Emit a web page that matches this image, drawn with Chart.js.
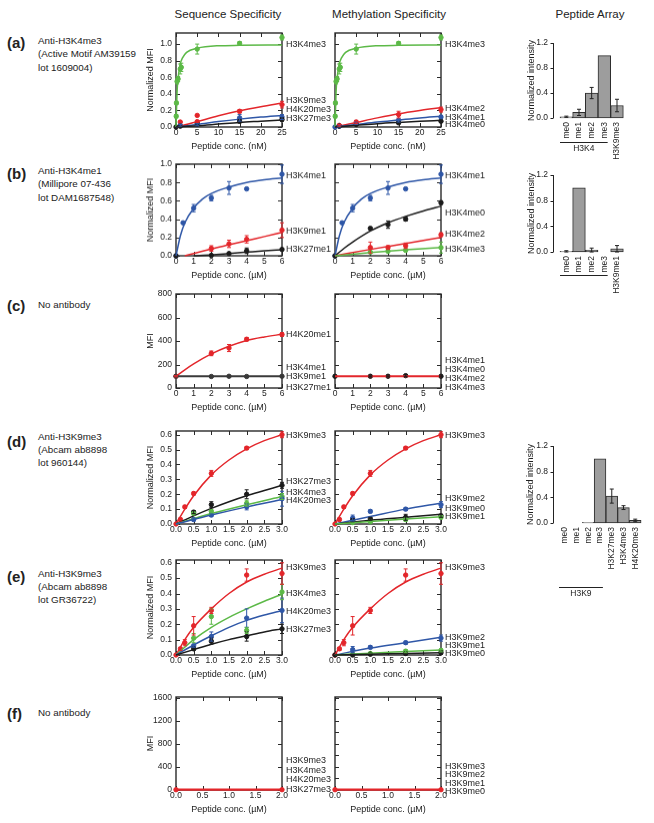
<!DOCTYPE html>
<html><head><meta charset="utf-8">
<script src="https://cdn.jsdelivr.net/npm/chart.js@4.4.0/dist/chart.umd.min.js"></script>
<style>
body{margin:0;background:#fff;}
#fig{position:relative;width:654px;height:823px;overflow:hidden;font-family:"Liberation Sans",Arial,sans-serif;color:#222;background:#fff;}
.t{position:absolute;white-space:nowrap;}
.col{font-size:11.5px;line-height:14px;transform:translateX(-50%);}
.pl{font-size:15px;line-height:18px;font-weight:bold;left:7px;}
.desc{font-size:9.8px;line-height:13.3px;left:38px;}
canvas{position:absolute;}
</style></head><body>
<div id="fig">
 <div class="t col" style="left:228px;top:7px">Sequence Specificity</div>
 <div class="t col" style="left:389px;top:7px">Methylation Specificity</div>
 <div class="t col" style="left:590px;top:7px">Peptide Array</div>
 <div class="t pl" style="top:34px">(a)</div>
 <div class="t desc" style="top:34px">Anti-H3K4me3<br>(Active Motif AM39159<br>lot 1609004)</div>
 <div class="t pl" style="top:165px">(b)</div>
 <div class="t desc" style="top:164px">Anti-H3K4me1<br>(Millipore 07-436<br>lot DAM1687548)</div>
 <div class="t pl" style="top:297px">(c)</div>
 <div class="t desc" style="top:297.5px">No antibody</div>
 <div class="t pl" style="top:433px">(d)</div>
 <div class="t desc" style="top:429.5px">Anti-H3K9me3<br>(Abcam ab8898<br>lot 960144)</div>
 <div class="t pl" style="top:568px">(e)</div>
 <div class="t desc" style="top:566.5px">Anti-H3K9me3<br>(Abcam ab8898<br>lot GR36722)</div>
 <div class="t pl" style="top:705px">(f)</div>
 <div class="t desc" style="top:705.5px">No antibody</div>
</div>
<script>
// ================= DATA =================
// ---- (a) Anti-H3K4me3, peptide conc. in nM ----
const aXTicks=[0,5,10,15,20,25];
const aYTicks=[0,0.2,0.4,0.6,0.8,1.0];
const aK4me3_px=[0.05,0.1,0.25,0.5,1,1.25,5,15,25];
const aK4me3_py=[0.13,0.29,0.55,0.58,0.70,0.72,0.94,1.01,1.08];
const aK4me3_pe=[0.02,0.02,0.03,0.03,0.06,0.05,0.06,0.02,0.03];
const aK4me3_cx=[0,0.25,0.5,1,1.5,2.5,5,10,15,25];
const aK4me3_cy=[0,0.42,0.59,0.76,0.83,0.90,0.95,0.98,0.985,0.99];
const aK9me3_px=[1,5,5,15,25];
const aK9me3_py=[0.06,0.14,0.065,0.19,0.27];
const aK9me3_pe=[0.01,0.01,0.01,0.02,0.04];
const aK9me3_cx=[0,1,5,10,15,20,25];
const aK9me3_cy=[0,0.01,0.065,0.135,0.195,0.245,0.29];
const aK20me3_px=[1,5,15,25];
const aK20me3_py=[0.02,0.03,0.11,0.12];
const aK20me3_pe=[0.01,0.01,0.04,0.03];
const aK20me3_cx=[0,5,10,15,20,25];
const aK20me3_cy=[0,0.03,0.065,0.095,0.12,0.14];
const aK27me3_px=[0,1,5,15,25];
const aK27me3_py=[0,0.01,0.04,0.07,0.09];
const aK27me3_pe=[0,0.01,0.01,0.02,0.02];
const aK27me3_cx=[0,5,10,15,20,25];
const aK27me3_cy=[0,0.015,0.035,0.055,0.07,0.085];
const aSeqLabels=['H3K4me3','H3K9me3','H4K20me3','H3K27me3'];
const aSeqLabelY=[1.0,0.32,0.21,0.10];
const aK4me2_px=[1,5,15,25];
const aK4me2_py=[0.02,0.06,0.15,0.21];
const aK4me2_pe=[0.01,0.02,0.04,0.03];
const aK4me2_cx=[0,5,10,15,20,25];
const aK4me2_cy=[0,0.055,0.11,0.16,0.2,0.235];
const aK4me1_px=[0,1,5,15,25];
const aK4me1_py=[0,0.01,0.04,0.08,0.12];
const aK4me1_pe=[0,0.01,0.01,0.02,0.02];
const aK4me1_cx=[0,5,10,15,20,25];
const aK4me1_cy=[0,0.03,0.06,0.085,0.11,0.13];
const aK4me0_px=[1,5,15,25];
const aK4me0_py=[0.01,0.03,0.05,0.07];
const aK4me0_pe=[0.01,0.01,0.01,0.01];
const aK4me0_cx=[0,5,10,15,20,25];
const aK4me0_cy=[0,0.02,0.04,0.055,0.068,0.08];
const aMethLabels=['H3K4me3','H3K4me2','H3K4me1','H3K4me0'];
const aMethLabelY=[1.0,0.22,0.12,0.03];
const aArrayCats=['me0','me1','me2','me3','H3K9me3'];
const aArrayVals=[0.02,0.09,0.40,1.0,0.20];
const aArrayErr=[0.01,0.05,0.09,0,0.10];

// ---- (b) Anti-H3K4me1, µM ----
const bXTicks=[0,1,2,3,4,5,6];
const bYTicks=[0,0.2,0.4,0.6,0.8,1.0];
const bK4me1_px=[0,0.4,1,2,3,4,6];
const bK4me1_py=[0,0.36,0.52,0.63,0.74,0.73,0.89];
const bK4me1_pe=[0,0.01,0.04,0.03,0.07,0.01,0.10];
const bK4me1_cx=[0,0.25,0.5,1,1.5,2,3,4,5,6];
const bK4me1_cy=[0,0.22,0.36,0.52,0.62,0.68,0.75,0.80,0.83,0.85];
const bK9me1_px=[2,3,4,6];
const bK9me1_py=[0.08,0.13,0.18,0.28];
const bK9me1_pe=[0.03,0.04,0.04,0.08];
const bK9me1_cx=[0.5,2,3,4,5,6];
const bK9me1_cy=[0,0.075,0.12,0.165,0.21,0.255];
const bK27me1_px=[0,2,3,4,6];
const bK27me1_py=[0,0.005,0.025,0.055,0.07];
const bK27me1_pe=[0,0.01,0.01,0.03,0.01];
const bK27me1_cx=[1,2,3,4,5,6];
const bK27me1_cy=[0,0.01,0.025,0.04,0.055,0.067];
const bSeqLabels=['H3K4me1','H3K9me1','H3K27me1'];
const bSeqLabelY=[0.875,0.27,0.07];
const bK4me0_px=[0,2,3,4,6];
const bK4me0_py=[0,0.30,0.34,0.40,0.58];
const bK4me0_pe=[0,0.01,0.04,0.02,0.02];
const bK4me0_cx=[0,0.5,1,2,3,4,5,6];
const bK4me0_cy=[0,0.08,0.15,0.27,0.36,0.43,0.49,0.54];
const bK4me2_px=[2,3,4,6];
const bK4me2_py=[0.09,0.09,0.11,0.23];
const bK4me2_pe=[0.06,0.02,0.03,0.02];
const bK4me2_cx=[0,2,4,6];
const bK4me2_cy=[0,0.07,0.135,0.2];
const bK4me3_px=[2,3,4,6];
const bK4me3_py=[0.04,0.05,0.06,0.09];
const bK4me3_pe=[0.01,0.01,0.01,0.06];
const bK4me3_cx=[0,2,4,6];
const bK4me3_cy=[0,0.035,0.065,0.09];
const bMethLabels=['H3K4me1','H3K4me0','H3K4me2','H3K4me3'];
const bMethLabelY=[0.875,0.47,0.24,0.07];
const bArrayCats=['me0','me1','me2','me3','H3K9me1'];
const bArrayVals=[0.01,1.0,0.03,0,0.05];
const bArrayErr=[0.01,0,0.03,0,0.05];

// ---- (c) No antibody, MFI ----
const cXTicks=[0,1,2,3,4,5,6];
const cYTicks=[0,200,400,600,800];
const cK20me1_px=[0,2,3,4,6];
const cK20me1_py=[100,295,340,415,455];
const cK20me1_pe=[5,20,30,15,15];
const cK20me1_cx=[0,0.5,1,2,3,4,5,6];
const cK20me1_cy=[100,155,205,290,355,405,435,457];
const cK9me1_px=[0,2,3,4,6];
const cK9me1_py=[100,98,100,98,100];
const cK9me1_pe=[0,5,5,5,5];
const cK9me1_cx=[0,6];
const cK9me1_cy=[100,100];
const cSeqLabels=['H4K20me1','H3K4me1','H3K9me1','H3K27me1'];
const cSeqLabelY=[457,176,94,8];
const cK4me0_px=[0,2,3,4,6];
const cK4me0_py=[100,100,100,105,100];
const cK4me0_pe=[0,4,4,8,4];
const cK4me2_cx=[0,6];
const cK4me2_cy=[100,100];
const cMethLabels=['H3K4me1','H3K4me0','H3K4me2','H3K4me3'];
const cMethLabelY=[233,157,77,8];

// ---- (d) Anti-H3K9me3 lot 960144, µM ----
const dXTicks=[0,0.5,1,1.5,2,2.5,3];
const dYTicks=[0,0.1,0.2,0.3,0.4,0.5,0.6];
const dK9me3_px=[0,0.125,0.25,0.5,1,2,3];
const dK9me3_py=[0,0.03,0.115,0.205,0.34,0.51,0.6];
const dK9me3_pe=[0,0.01,0.01,0.01,0.02,0.01,0.02];
const dK9me3_cx=[0,0.25,0.5,1,1.5,2,2.5,3];
const dK9me3_cy=[0,0.1,0.19,0.33,0.43,0.505,0.56,0.6];
const dK27me3_px=[0.5,1,2,3];
const dK27me3_py=[0.08,0.13,0.2,0.26];
const dK27me3_pe=[0.01,0.02,0.03,0.02];
const dK27me3_cx=[0,0.5,1,1.5,2,2.5,3];
const dK27me3_cy=[0,0.055,0.105,0.15,0.19,0.225,0.26];
const dK4me3_px=[0.5,1,2,3];
const dK4me3_py=[0.07,0.085,0.14,0.185];
const dK4me3_pe=[0.01,0.01,0.02,0.02];
const dK4me3_cx=[0,1,2,3];
const dK4me3_cy=[0,0.07,0.13,0.185];
const dK20me3_px=[0.5,1,2,3];
const dK20me3_py=[0.03,0.06,0.115,0.17];
const dK20me3_pe=[0.01,0.01,0.02,0.05];
const dK20me3_cx=[0,1,2,3];
const dK20me3_cy=[0,0.06,0.115,0.165];
const dSeqLabels=['H3K9me3','H3K27me3','H3K4me3','H4K20me3'];
const dSeqLabelY=[0.593,0.287,0.213,0.156];
const dK9me2_px=[0.5,1,2,3];
const dK9me2_py=[0.04,0.085,0.1,0.13];
const dK9me2_pe=[0.02,0.01,0.01,0.02];
const dK9me2_cx=[0,1,2,3];
const dK9me2_cy=[0,0.05,0.1,0.14];
const dK9me0_px=[0.5,1,2,3];
const dK9me0_py=[0.025,0.035,0.045,0.055];
const dK9me0_pe=[0.01,0.01,0.02,0.01];
const dK9me0_cx=[0,1,2,3];
const dK9me0_cy=[0,0.025,0.045,0.065];
const dK9me1_px=[0.5,1,2,3];
const dK9me1_py=[0.01,0.015,0.03,0.045];
const dK9me1_pe=[0.005,0.005,0.01,0.01];
const dK9me1_cx=[0,1,2,3];
const dK9me1_cy=[0,0.017,0.033,0.048];
const dMethLabels=['H3K9me3','H3K9me2','H3K9me0','H3K9me1'];
const dMethLabelY=[0.593,0.168,0.105,0.049];
const dArrayCats=['me0','me1','me2','me3','H3K27me3','H3K4me3','H4K20me3'];
const dArrayVals=[0,0,0.01,1.0,0.42,0.24,0.04];
const dArrayErr=[0,0,0,0,0.11,0.03,0.02];

// ---- (e) Anti-H3K9me3 lot GR36722, µM ----
const eXTicks=[0,0.5,1,1.5,2,2.5,3];
const eYTicks=[0,0.1,0.2,0.3,0.4,0.5,0.6];
const eK9me3_px=[0,0.125,0.25,0.5,1,2,3];
const eK9me3_py=[0,0.04,0.08,0.19,0.29,0.52,0.53];
const eK9me3_pe=[0,0.01,0.02,0.06,0.02,0.04,0.07];
const eK9me3_cx=[0,0.25,0.5,1,1.5,2,2.5,3];
const eK9me3_cy=[0,0.1,0.18,0.3,0.4,0.475,0.525,0.565];
const eK4me3_px=[0.5,1,2,3];
const eK4me3_py=[0.11,0.25,0.16,0.41];
const eK4me3_pe=[0.03,0.05,0.02,0.05];
const eK4me3_cx=[0,0.5,1,1.5,2,2.5,3];
const eK4me3_cy=[0,0.1,0.18,0.245,0.3,0.35,0.395];
const eK20me3_px=[0.5,1,2,3];
const eK20me3_py=[0.06,0.12,0.24,0.29];
const eK20me3_pe=[0.01,0.03,0.06,0.08];
const eK20me3_cx=[0,0.5,1,1.5,2,2.5,3];
const eK20me3_cy=[0,0.065,0.125,0.18,0.225,0.26,0.29];
const eK27me3_px=[0.5,1,2,3];
const eK27me3_py=[0.04,0.09,0.12,0.17];
const eK27me3_pe=[0.01,0.02,0.03,0.03];
const eK27me3_cx=[0,0.5,1,1.5,2,2.5,3];
const eK27me3_cy=[0,0.035,0.07,0.1,0.125,0.15,0.17];
const eSeqLabels=['H3K9me3','H3K4me3','H4K20me3','H3K27me3'];
const eSeqLabelY=[0.566,0.397,0.284,0.169];
const eK9me2_px=[0.5,1,2,3];
const eK9me2_py=[0.035,0.05,0.08,0.11];
const eK9me2_pe=[0.02,0.01,0.01,0.02];
const eK9me2_cx=[0,1,2,3];
const eK9me2_cy=[0,0.045,0.08,0.115];
const eK9me1_px=[0.5,1,2,3];
const eK9me1_py=[0.005,0.01,0.025,0.03];
const eK9me1_pe=[0,0,0.01,0.01];
const eK9me1_cx=[0,1,2,3];
const eK9me1_cy=[0,0.012,0.022,0.032];
const eK9me0_px=[0,0.5,1,2,3];
const eK9me0_py=[0,0,0.005,0.01,0.015];
const eK9me0_pe=[0,0,0,0.01,0.01];
const eK9me0_cx=[0,1,2,3];
const eK9me0_cy=[0,0.005,0.01,0.015];
const eMethLabels=['H3K9me3','H3K9me2','H3K9me1','H3K9me0'];
const eMethLabelY=[0.566,0.112,0.059,0.007];

// ---- (f) No antibody, MFI ----
const fXTicks=[0,0.5,1,1.5,2];
const fYTicks=[0,200,400,600,800,1000,1200,1400,1600];
const fK9me3_px=[0,2];
const fK9me3_py=[5,5];
const fK9me3_pe=[0,0];
const fK9me3_cx=[0,2];
const fK9me3_cy=[5,5];
const fSeqLabels=['H3K9me3','H3K4me3','H4K20me3','H3K27me3'];
const fSeqLabelY=[506,343,174,0];
const fMethLabels=['H3K9me3','H3K9me2','H3K9me1','H3K9me0'];
const fMethLabelY=[413,262,117,-30];

// ================= STYLE / RENDER =================
const GREEN='#5cb947', RED='#e3262b', BLUE='#2f57a7', BLACK='#1c1c1c', DARK='#3a3a3a';
const INK='#222';
const LABEL_FONT='9px "Liberation Sans", Arial, sans-serif';
const TICK_SIZE=8.5;
Chart.defaults.font.family='"Liberation Sans", Arial, sans-serif';
const fig=document.getElementById('fig');

function addCanvas(left,top,w,h){
  const c=document.createElement('canvas');
  c.width=w;c.height=h;
  c.style.left=left+'px';c.style.top=top+'px';c.style.width=w+'px';c.style.height=h+'px';
  fig.appendChild(c);return c;
}
function fmt(v,d){return Number(v).toFixed(d);}
function S(color,px,py,pe,cx,cy,lw){return {color,px,py,pe,cx,cy,lw};}

const boxPlugin={id:'box',beforeDatasetsDraw(chart){
  const {ctx,chartArea:a,scales:{x,y}}=chart;
  ctx.save();ctx.strokeStyle='#2a2a2a';ctx.lineWidth=1.4;
  ctx.strokeRect(a.left,a.top,a.right-a.left,a.bottom-a.top);
  ctx.lineWidth=1;ctx.beginPath();
  x.ticks.forEach(t=>{const p=Math.round(x.getPixelForValue(t.value))+0.5;ctx.moveTo(p,a.bottom);ctx.lineTo(p,a.bottom-4);ctx.moveTo(p,a.top);ctx.lineTo(p,a.top+4);});
  y.ticks.forEach(t=>{const p=Math.round(y.getPixelForValue(t.value))+0.5;ctx.moveTo(a.left,p);ctx.lineTo(a.left+4,p);ctx.moveTo(a.right,p);ctx.lineTo(a.right-4,p);});
  ctx.stroke();ctx.restore();
}};
const errPlugin={id:'errs',afterDatasetsDraw(chart){
  const ctx=chart.ctx,ys=chart.scales.y;
  chart.data.datasets.forEach((ds,i)=>{
    if(!ds.errs)return;
    const meta=chart.getDatasetMeta(i);
    ctx.save();ctx.strokeStyle=ds.errColor||ds.borderColor;ctx.lineWidth=1;ctx.beginPath();
    ds.data.forEach((d,j)=>{
      const e=ds.errs[j];if(!e)return;
      const v=(typeof d==='number')?d:d.y;
      const x=meta.data[j].x,y1=ys.getPixelForValue(v+e),y2=ys.getPixelForValue(v-e);
      ctx.moveTo(x,y1);ctx.lineTo(x,y2);
      ctx.moveTo(x-2,y1);ctx.lineTo(x+2,y1);ctx.moveTo(x-2,y2);ctx.lineTo(x+2,y2);
    });
    ctx.stroke();ctx.restore();
  });
}};
const labelPlugin={id:'sideLabels',afterDraw(chart,args,o){
  if(!o||!o.names)return;
  const {ctx,chartArea:a,scales:{y}}=chart;
  ctx.save();ctx.fillStyle=INK;ctx.font=LABEL_FONT;
  ctx.textAlign='left';ctx.textBaseline='middle';
  o.names.forEach((n,i)=>ctx.fillText(n,a.right+4,y.getPixelForValue(o.ys[i])));
  ctx.restore();
}};
const barAxisPlugin={id:'barAxis',afterDraw(chart,args,o){
  const {ctx,chartArea:a,scales:{x,y}}=chart;
  const ax=Math.round(a.left-o.gap)+0.5;
  ctx.save();ctx.strokeStyle='#222';ctx.lineWidth=1;ctx.beginPath();
  ctx.moveTo(ax,a.top);ctx.lineTo(ax,a.bottom);
  y.ticks.forEach(t=>{const p=Math.round(y.getPixelForValue(t.value))+0.5;ctx.moveTo(ax-3,p);ctx.lineTo(ax,p);});
  if(o.group){
    const w=x.getPixelForValue(1)-x.getPixelForValue(0);
    const x1=x.getPixelForValue(o.group.from)-w/2,x2=x.getPixelForValue(o.group.to)+w/2-3;
    const gy=Math.round(a.bottom+o.group.dy)+0.5;
    ctx.moveTo(x1,gy);ctx.lineTo(x2,gy);
    ctx.stroke();
    if(o.group.text){ctx.fillStyle=INK;ctx.font='8.5px "Liberation Sans", Arial, sans-serif';ctx.textAlign='center';ctx.textBaseline='middle';ctx.fillText(o.group.text,(x1+x2)/2,gy+6.5);}
  } else ctx.stroke();
  ctx.restore();
}};

function lineChart(box,spec){
  const AW=32,PT=12,PR=70,XH=25;
  const left=box.L-AW,top=box.T-PT,w=AW+(box.R-box.L)+PR,h=PT+(box.B-box.T)+XH;
  const cv=addCanvas(left,top,w,h);
  const lines=[],pts=[];
  spec.series.forEach(s=>{
    lines.push({type:'line',data:s.cx.map((x,i)=>({x,y:s.cy[i]})),borderColor:s.color,borderWidth:s.lw||1.5,pointRadius:0,cubicInterpolationMode:'monotone',fill:false,clip:false});
    pts.push({type:'scatter',data:s.px.map((x,i)=>({x,y:s.py[i]})),errs:s.pe,backgroundColor:s.color,borderColor:s.color,borderWidth:1,pointRadius:2.2,clip:false});
  });
  new Chart(cv,{type:'scatter',data:{datasets:lines.concat(pts)},plugins:[boxPlugin,errPlugin,labelPlugin],
    options:{responsive:false,animation:false,events:[],
      layout:{padding:{top:PT,right:PR,left:0,bottom:0}},
      plugins:{legend:{display:false},tooltip:{enabled:false},sideLabels:{names:spec.labels,ys:spec.labelY}},
      scales:{
        x:{type:'linear',min:spec.xmin,max:spec.xmax,
          afterBuildTicks:s=>{s.ticks=spec.xticks.map(v=>({value:v}));},
          afterFit:s=>{s.height=XH;},
          grid:{display:false,drawTicks:false,tickLength:0},border:{display:false},
          ticks:{padding:1,font:{size:TICK_SIZE},color:INK,maxRotation:0,autoSkip:false,callback:v=>fmt(v,spec.xdec)},
          title:{display:true,text:spec.xtitle,font:{size:9},color:INK,padding:{top:0,bottom:0}}},
        y:{type:'linear',min:spec.ymin,max:spec.ymax,
          afterBuildTicks:s=>{s.ticks=spec.yticks.map(v=>({value:v}));},
          afterFit:s=>{s.width=AW;},
          grid:{display:false,drawTicks:false,tickLength:0},border:{display:false},
          ticks:{display:!!spec.ytitle,padding:4,font:{size:TICK_SIZE},color:INK,callback:v=>fmt(v,spec.ydec)},
          title:{display:!!spec.ytitle,text:spec.ytitle||'',font:{size:9},color:INK,padding:{top:1.5,bottom:0}}}
      }}});
}

function barChart(box,spec){
  const AW=40,PT=8,PR=8,XH=80;
  const left=box.L-AW,top=box.T-PT,w=AW+(box.R-box.L)+PR,h=PT+(box.B-box.T)+XH;
  const cv=addCanvas(left,top,w,h);
  new Chart(cv,{type:'bar',data:{labels:spec.cats,datasets:[{data:spec.vals,errs:spec.errs,errColor:'#222',backgroundColor:'#9d9d9d',borderColor:'#2e2e2e',borderWidth:1,borderSkipped:false,barPercentage:1,categoryPercentage:1,clip:false}]},
    plugins:[errPlugin,barAxisPlugin],
    options:{responsive:false,animation:false,events:[],
      layout:{padding:{top:PT,right:PR,left:0,bottom:0}},
      plugins:{legend:{display:false},tooltip:{enabled:false},barAxis:{gap:box.gap,group:spec.group}},
      scales:{
        x:{type:'category',afterFit:s=>{s.height=XH;},grid:{display:false,drawTicks:false,tickLength:0},border:{display:false},
          ticks:{minRotation:90,maxRotation:90,padding:4,font:{size:TICK_SIZE},color:INK,autoSkip:false}},
        y:{type:'linear',min:0,max:1.2,
          afterBuildTicks:s=>{s.ticks=spec.yticks.map(v=>({value:v}));},
          afterFit:s=>{s.width=AW;},
          grid:{display:false,drawTicks:false,tickLength:0},border:{display:false},
          ticks:{padding:box.gap+5,font:{size:TICK_SIZE},color:INK,callback:v=>fmt(v,1)},
          title:{display:true,text:'Normalized intensity',font:{size:9},color:INK,padding:{top:6.6,bottom:0}}}
      }}});
}

const SEQ={L:176,R:282}, METH={L:335,R:441};
const NM='Peptide conc. (nM)', UM='Peptide conc. (\u00b5M)';
const barYTicks=[0,0.2,0.4,0.6,0.8,1.0,1.2];

// (a)
const aRow={T:32.5,B:127.3};
lineChart({...SEQ,...aRow},{xmin:0,xmax:25,ymin:0,ymax:1.134,xticks:aXTicks,yticks:aYTicks,xdec:0,ydec:1,xtitle:NM,ytitle:'Normalized MFI',labels:aSeqLabels,labelY:aSeqLabelY,
  series:[S(BLACK,aK27me3_px,aK27me3_py,aK27me3_pe,aK27me3_cx,aK27me3_cy),S(BLUE,aK20me3_px,aK20me3_py,aK20me3_pe,aK20me3_cx,aK20me3_cy),S(RED,aK9me3_px,aK9me3_py,aK9me3_pe,aK9me3_cx,aK9me3_cy),S(GREEN,aK4me3_px,aK4me3_py,aK4me3_pe,aK4me3_cx,aK4me3_cy)]});
lineChart({...METH,...aRow},{xmin:0,xmax:25,ymin:0,ymax:1.134,xticks:aXTicks,yticks:aYTicks,xdec:0,ydec:1,xtitle:NM,labels:aMethLabels,labelY:aMethLabelY,
  series:[S(BLACK,aK4me0_px,aK4me0_py,aK4me0_pe,aK4me0_cx,aK4me0_cy),S(BLUE,aK4me1_px,aK4me1_py,aK4me1_pe,aK4me1_cx,aK4me1_cy),S(RED,aK4me2_px,aK4me2_py,aK4me2_pe,aK4me2_cx,aK4me2_cy),S(GREEN,aK4me3_px,aK4me3_py,aK4me3_pe,aK4me3_cx,aK4me3_cy)]});
barChart({L:560,R:624,T:34.3,B:118.3,gap:7},{cats:aArrayCats,vals:aArrayVals,errs:aArrayErr,yticks:barYTicks,group:{from:0,to:3,dy:24.4,text:'H3K4'}});

// (b)
const bRow={T:164.3,B:255.7};
lineChart({...SEQ,...bRow},{xmin:0,xmax:6,ymin:0,ymax:1.0,xticks:bXTicks,yticks:bYTicks,xdec:0,ydec:1,xtitle:UM,ytitle:'Normalized MFI',labels:bSeqLabels,labelY:bSeqLabelY,
  series:[S(BLACK,bK27me1_px,bK27me1_py,bK27me1_pe,bK27me1_cx,bK27me1_cy),S(RED,bK9me1_px,bK9me1_py,bK9me1_pe,bK9me1_cx,bK9me1_cy),S(BLUE,bK4me1_px,bK4me1_py,bK4me1_pe,bK4me1_cx,bK4me1_cy)]});
lineChart({...METH,...bRow},{xmin:0,xmax:6,ymin:0,ymax:1.0,xticks:bXTicks,yticks:bYTicks,xdec:0,ydec:1,xtitle:UM,labels:bMethLabels,labelY:bMethLabelY,
  series:[S(GREEN,bK4me3_px,bK4me3_py,bK4me3_pe,bK4me3_cx,bK4me3_cy),S(RED,bK4me2_px,bK4me2_py,bK4me2_pe,bK4me2_cx,bK4me2_cy),S(BLACK,bK4me0_px,bK4me0_py,bK4me0_pe,bK4me0_cx,bK4me0_cy),S(BLUE,bK4me1_px,bK4me1_py,bK4me1_pe,bK4me1_cx,bK4me1_cy)]});
barChart({L:560,R:624,T:165.7,B:251.7,gap:7},{cats:bArrayCats,vals:bArrayVals,errs:bArrayErr,yticks:barYTicks,group:{from:0,to:3,dy:23.3,text:''}});

// (c)
const cRow={T:293.5,B:387.7};
lineChart({...SEQ,...cRow},{xmin:0,xmax:6,ymin:0,ymax:800,xticks:cXTicks,yticks:cYTicks,xdec:0,ydec:0,xtitle:UM,ytitle:'MFI',labels:cSeqLabels,labelY:cSeqLabelY,
  series:[S(DARK,cK9me1_px,cK9me1_py,cK9me1_pe,cK9me1_cx,cK9me1_cy,2),S(RED,cK20me1_px,cK20me1_py,cK20me1_pe,cK20me1_cx,cK20me1_cy)]});
lineChart({...METH,...cRow},{xmin:0,xmax:6,ymin:0,ymax:800,xticks:cXTicks,yticks:cYTicks,xdec:0,ydec:0,xtitle:UM,labels:cMethLabels,labelY:cMethLabelY,
  series:[S(RED,[],[],[],cK4me2_cx,cK4me2_cy,2),S(BLACK,cK4me0_px,cK4me0_py,cK4me0_pe,[],[])]});

// (d)
const dRow={T:431,B:524};
lineChart({...SEQ,...dRow},{xmin:0,xmax:3,ymin:0,ymax:0.625,xticks:dXTicks,yticks:dYTicks,xdec:1,ydec:1,xtitle:UM,ytitle:'Normalized MFI',labels:dSeqLabels,labelY:dSeqLabelY,
  series:[S(BLUE,dK20me3_px,dK20me3_py,dK20me3_pe,dK20me3_cx,dK20me3_cy),S(GREEN,dK4me3_px,dK4me3_py,dK4me3_pe,dK4me3_cx,dK4me3_cy),S(BLACK,dK27me3_px,dK27me3_py,dK27me3_pe,dK27me3_cx,dK27me3_cy),S(RED,dK9me3_px,dK9me3_py,dK9me3_pe,dK9me3_cx,dK9me3_cy)]});
lineChart({...METH,...dRow},{xmin:0,xmax:3,ymin:0,ymax:0.625,xticks:dXTicks,yticks:dYTicks,xdec:1,ydec:1,xtitle:UM,labels:dMethLabels,labelY:dMethLabelY,
  series:[S(GREEN,dK9me1_px,dK9me1_py,dK9me1_pe,dK9me1_cx,dK9me1_cy),S(BLACK,dK9me0_px,dK9me0_py,dK9me0_pe,dK9me0_cx,dK9me0_cy),S(BLUE,dK9me2_px,dK9me2_py,dK9me2_pe,dK9me2_cx,dK9me2_cy),S(RED,dK9me3_px,dK9me3_py,dK9me3_pe,dK9me3_cx,dK9me3_cy)]});
barChart({L:559,R:642,T:438,B:523.3,gap:6},{cats:dArrayCats,vals:dArrayVals,errs:dArrayErr,yticks:barYTicks,group:{from:0,to:3,dy:64,text:'H3K9'}});

// (e)
const eRow={T:560,B:655};
lineChart({...SEQ,...eRow},{xmin:0,xmax:3,ymin:0,ymax:0.618,xticks:eXTicks,yticks:eYTicks,xdec:1,ydec:1,xtitle:UM,ytitle:'Normalized MFI',labels:eSeqLabels,labelY:eSeqLabelY,
  series:[S(BLACK,eK27me3_px,eK27me3_py,eK27me3_pe,eK27me3_cx,eK27me3_cy),S(BLUE,eK20me3_px,eK20me3_py,eK20me3_pe,eK20me3_cx,eK20me3_cy),S(GREEN,eK4me3_px,eK4me3_py,eK4me3_pe,eK4me3_cx,eK4me3_cy),S(RED,eK9me3_px,eK9me3_py,eK9me3_pe,eK9me3_cx,eK9me3_cy)]});
lineChart({...METH,...eRow},{xmin:0,xmax:3,ymin:0,ymax:0.618,xticks:eXTicks,yticks:eYTicks,xdec:1,ydec:1,xtitle:UM,labels:eMethLabels,labelY:eMethLabelY,
  series:[S(BLACK,eK9me0_px,eK9me0_py,eK9me0_pe,eK9me0_cx,eK9me0_cy),S(GREEN,eK9me1_px,eK9me1_py,eK9me1_pe,eK9me1_cx,eK9me1_cy),S(BLUE,eK9me2_px,eK9me2_py,eK9me2_pe,eK9me2_cx,eK9me2_cy),S(RED,eK9me3_px,eK9me3_py,eK9me3_pe,eK9me3_cx,eK9me3_cy)]});

// (f)
const fRow={T:697,B:790};
lineChart({...SEQ,...fRow},{xmin:0,xmax:2,ymin:0,ymax:1615,xticks:fXTicks,yticks:fYTicks,xdec:1,ydec:0,xtitle:UM,ytitle:'MFI',labels:fSeqLabels,labelY:fSeqLabelY,
  series:[S(RED,fK9me3_px,fK9me3_py,fK9me3_pe,fK9me3_cx,fK9me3_cy,2.2)]});
lineChart({...METH,...fRow},{xmin:0,xmax:2,ymin:0,ymax:1615,xticks:fXTicks,yticks:fYTicks,xdec:1,ydec:0,xtitle:UM,labels:fMethLabels,labelY:fMethLabelY,
  series:[S(RED,fK9me3_px,fK9me3_py,fK9me3_pe,fK9me3_cx,fK9me3_cy,2.2)]});
</script>
</body></html>
